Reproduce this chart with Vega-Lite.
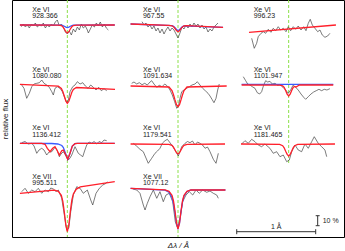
{
"$schema":"https://vega.github.io/schema/vega-lite/v6.json",
"width":332,"height":237,
"autosize":{"type":"none"},
"padding":{"left":12,"top":0,"right":1,"bottom":14},
"config":{"view":{"stroke":"#000","strokeWidth":1},"text":{"font":"Liberation Sans","fontSize":7,"color":"#222"}},
"datasets":{"spec":[
{"p":1,"s":"l","ion":"Xe VI","wl":"928.366"},
{"p":2,"s":"l","ion":"Xe VI","wl":"967.55"},
{"p":3,"s":"l","ion":"Xe VI","wl":"996.23"},
{"p":4,"s":"l","ion":"Xe VI","wl":"1080.080"},
{"p":5,"s":"l","ion":"Xe VI","wl":"1091.634"},
{"p":6,"s":"l","ion":"Xe VI","wl":"1101.947"},
{"p":7,"s":"l","ion":"Xe VI","wl":"1136.412"},
{"p":8,"s":"l","ion":"Xe VI","wl":"1179.541"},
{"p":9,"s":"l","ion":"Xe VI","wl":"1181.465"},
{"p":10,"s":"l","ion":"Xe VII","wl":"995.511"},
{"p":11,"s":"l","ion":"Xe VII","wl":"1077.12"},
{"p":1,"s":"o","dl":-0.582,"f":0.983},{"p":1,"s":"o","dl":-0.557,"f":1.01},{"p":1,"s":"o","dl":-0.531,"f":0.98},{"p":1,"s":"o","dl":-0.506,"f":1.0},{"p":1,"s":"o","dl":-0.481,"f":0.97},{"p":1,"s":"o","dl":-0.455,"f":1.01},{"p":1,"s":"o","dl":-0.43,"f":0.99},{"p":1,"s":"o","dl":-0.405,"f":1.02},{"p":1,"s":"o","dl":-0.38,"f":0.98},{"p":1,"s":"o","dl":-0.354,"f":1.0},{"p":1,"s":"o","dl":-0.329,"f":0.99},{"p":1,"s":"o","dl":-0.304,"f":1.02},{"p":1,"s":"o","dl":-0.278,"f":0.97},{"p":1,"s":"o","dl":-0.253,"f":1.0},{"p":1,"s":"o","dl":-0.228,"f":0.98},{"p":1,"s":"o","dl":-0.202,"f":1.01},{"p":1,"s":"o","dl":-0.177,"f":0.99},{"p":1,"s":"o","dl":-0.152,"f":1.03},{"p":1,"s":"o","dl":-0.127,"f":1.05},{"p":1,"s":"o","dl":-0.101,"f":0.99},{"p":1,"s":"o","dl":-0.076,"f":1.01},{"p":1,"s":"o","dl":-0.051,"f":0.98},{"p":1,"s":"o","dl":-0.025,"f":0.93},{"p":1,"s":"o","dl":0,"f":0.91},{"p":1,"s":"o","dl":0.025,"f":0.94},{"p":1,"s":"o","dl":0.051,"f":0.9},{"p":1,"s":"o","dl":0.076,"f":0.96},{"p":1,"s":"o","dl":0.101,"f":0.93},{"p":1,"s":"o","dl":0.127,"f":0.98},{"p":1,"s":"o","dl":0.152,"f":0.95},{"p":1,"s":"o","dl":0.177,"f":1.01},{"p":1,"s":"o","dl":0.202,"f":0.97},{"p":1,"s":"o","dl":0.228,"f":0.99},{"p":1,"s":"o","dl":0.253,"f":0.95},{"p":1,"s":"o","dl":0.266,"f":0.92},{"p":1,"s":"o","dl":0.291,"f":0.96},{"p":1,"s":"o","dl":0.316,"f":1.0},{"p":1,"s":"o","dl":0.342,"f":0.98},{"p":1,"s":"o","dl":0.367,"f":1.02},{"p":1,"s":"o","dl":0.392,"f":0.99},{"p":1,"s":"o","dl":0.417,"f":1.03},{"p":1,"s":"o","dl":0.443,"f":0.98},{"p":1,"s":"o","dl":0.468,"f":1.01},{"p":1,"s":"o","dl":0.493,"f":0.97},{"p":1,"s":"o","dl":0.519,"f":0.95},
{"p":1,"s":"r","dl":-0.6,"f":1.0},{"p":1,"s":"r","dl":-0.114,"f":0.999},{"p":1,"s":"r","dl":-0.076,"f":0.994},{"p":1,"s":"r","dl":-0.057,"f":0.982},{"p":1,"s":"r","dl":-0.038,"f":0.96},{"p":1,"s":"r","dl":-0.019,"f":0.933},{"p":1,"s":"r","dl":0,"f":0.92},{"p":1,"s":"r","dl":0.019,"f":0.933},{"p":1,"s":"r","dl":0.038,"f":0.96},{"p":1,"s":"r","dl":0.057,"f":0.982},{"p":1,"s":"r","dl":0.076,"f":0.994},{"p":1,"s":"r","dl":0.114,"f":0.999},{"p":1,"s":"r","dl":0.6,"f":1.0},
{"p":1,"s":"b","dl":-0.6,"f":1.0},{"p":1,"s":"b","dl":-0.076,"f":0.998},{"p":1,"s":"b","dl":-0.057,"f":0.995},{"p":1,"s":"b","dl":-0.038,"f":0.988},{"p":1,"s":"b","dl":-0.019,"f":0.979},{"p":1,"s":"b","dl":0,"f":0.975},{"p":1,"s":"b","dl":0.019,"f":0.979},{"p":1,"s":"b","dl":0.038,"f":0.988},{"p":1,"s":"b","dl":0.057,"f":0.995},{"p":1,"s":"b","dl":0.076,"f":0.998},{"p":1,"s":"b","dl":0.6,"f":1.0},
{"p":2,"s":"o","dl":-0.455,"f":1.033},{"p":2,"s":"o","dl":-0.43,"f":1.0},{"p":2,"s":"o","dl":-0.405,"f":1.02},{"p":2,"s":"o","dl":-0.38,"f":0.98},{"p":2,"s":"o","dl":-0.354,"f":1.0},{"p":2,"s":"o","dl":-0.329,"f":0.96},{"p":2,"s":"o","dl":-0.304,"f":0.99},{"p":2,"s":"o","dl":-0.278,"f":0.94},{"p":2,"s":"o","dl":-0.253,"f":0.97},{"p":2,"s":"o","dl":-0.228,"f":0.92},{"p":2,"s":"o","dl":-0.202,"f":0.96},{"p":2,"s":"o","dl":-0.177,"f":0.91},{"p":2,"s":"o","dl":-0.152,"f":0.95},{"p":2,"s":"o","dl":-0.127,"f":0.98},{"p":2,"s":"o","dl":-0.101,"f":0.94},{"p":2,"s":"o","dl":-0.076,"f":0.97},{"p":2,"s":"o","dl":-0.051,"f":0.95},{"p":2,"s":"o","dl":-0.025,"f":0.91},{"p":2,"s":"o","dl":0,"f":0.87},{"p":2,"s":"o","dl":0.025,"f":0.92},{"p":2,"s":"o","dl":0.051,"f":0.98},{"p":2,"s":"o","dl":0.076,"f":0.96},{"p":2,"s":"o","dl":0.101,"f":1.0},{"p":2,"s":"o","dl":0.127,"f":0.97},{"p":2,"s":"o","dl":0.152,"f":1.01},{"p":2,"s":"o","dl":0.177,"f":0.98},{"p":2,"s":"o","dl":0.202,"f":1.02},{"p":2,"s":"o","dl":0.228,"f":0.99},{"p":2,"s":"o","dl":0.253,"f":1.01},{"p":2,"s":"o","dl":0.278,"f":0.97},{"p":2,"s":"o","dl":0.304,"f":1.0},{"p":2,"s":"o","dl":0.329,"f":0.96},{"p":2,"s":"o","dl":0.354,"f":0.98},{"p":2,"s":"o","dl":0.38,"f":0.93},{"p":2,"s":"o","dl":0.405,"f":0.96},{"p":2,"s":"o","dl":0.43,"f":0.94},{"p":2,"s":"o","dl":0.455,"f":0.98},{"p":2,"s":"o","dl":0.481,"f":1.0},{"p":2,"s":"o","dl":0.506,"f":1.02},
{"p":2,"s":"r","dl":-0.6,"f":1.01},{"p":2,"s":"r","dl":-0.114,"f":0.996},{"p":2,"s":"r","dl":-0.076,"f":0.992},{"p":2,"s":"r","dl":-0.057,"f":0.983},{"p":2,"s":"r","dl":-0.038,"f":0.965},{"p":2,"s":"r","dl":-0.019,"f":0.944},{"p":2,"s":"r","dl":0,"f":0.933},{"p":2,"s":"r","dl":0.019,"f":0.943},{"p":2,"s":"r","dl":0.038,"f":0.964},{"p":2,"s":"r","dl":0.057,"f":0.981},{"p":2,"s":"r","dl":0.076,"f":0.99},{"p":2,"s":"r","dl":0.114,"f":0.994},{"p":2,"s":"r","dl":0.57,"f":0.977},
{"p":2,"s":"b","dl":-0.6,"f":1.01},{"p":2,"s":"b","dl":-0.076,"f":0.993},{"p":2,"s":"b","dl":-0.057,"f":0.986},{"p":2,"s":"b","dl":-0.038,"f":0.972},{"p":2,"s":"b","dl":-0.019,"f":0.955},{"p":2,"s":"b","dl":0,"f":0.945},{"p":2,"s":"b","dl":0.019,"f":0.953},{"p":2,"s":"b","dl":0.038,"f":0.97},{"p":2,"s":"b","dl":0.057,"f":0.984},{"p":2,"s":"b","dl":0.076,"f":0.991},{"p":2,"s":"b","dl":0.57,"f":0.977},
{"p":3,"s":"o","dl":-0.468,"f":0.867},{"p":3,"s":"o","dl":-0.435,"f":0.767},{"p":3,"s":"o","dl":-0.405,"f":0.817},{"p":3,"s":"o","dl":-0.385,"f":0.883},{"p":3,"s":"o","dl":-0.35,"f":0.917},{"p":3,"s":"o","dl":-0.321,"f":0.933},{"p":3,"s":"o","dl":-0.291,"f":0.917},{"p":3,"s":"o","dl":-0.258,"f":0.957},{"p":3,"s":"o","dl":-0.224,"f":0.927},{"p":3,"s":"o","dl":-0.195,"f":0.967},{"p":3,"s":"o","dl":-0.164,"f":0.943},{"p":3,"s":"o","dl":-0.132,"f":0.983},{"p":3,"s":"o","dl":-0.101,"f":0.95},{"p":3,"s":"o","dl":-0.068,"f":0.967},{"p":3,"s":"o","dl":-0.034,"f":0.933},{"p":3,"s":"o","dl":-0.005,"f":0.983},{"p":3,"s":"o","dl":0.025,"f":0.943},{"p":3,"s":"o","dl":0.058,"f":0.983},{"p":3,"s":"o","dl":0.089,"f":0.957},{"p":3,"s":"o","dl":0.121,"f":0.99},{"p":3,"s":"o","dl":0.156,"f":0.95},{"p":3,"s":"o","dl":0.19,"f":0.983},{"p":3,"s":"o","dl":0.219,"f":0.943},{"p":3,"s":"o","dl":0.248,"f":1.017},{"p":3,"s":"o","dl":0.273,"f":1.057},{"p":3,"s":"o","dl":0.299,"f":1.0},{"p":3,"s":"o","dl":0.333,"f":0.967},{"p":3,"s":"o","dl":0.367,"f":0.933},{"p":3,"s":"o","dl":0.396,"f":0.95},{"p":3,"s":"o","dl":0.425,"f":0.9},{"p":3,"s":"o","dl":0.459,"f":0.877},{"p":3,"s":"o","dl":0.493,"f":0.89},{"p":3,"s":"o","dl":0.522,"f":0.917},
{"p":3,"s":"r","dl":-0.502,"f":0.927},{"p":3,"s":"r","dl":0.598,"f":1.0},
{"p":4,"s":"o","dl":-0.577,"f":1.0},{"p":4,"s":"o","dl":-0.548,"f":0.967},{"p":4,"s":"o","dl":-0.514,"f":0.867},{"p":4,"s":"o","dl":-0.481,"f":0.917},{"p":4,"s":"o","dl":-0.45,"f":0.983},{"p":4,"s":"o","dl":-0.421,"f":1.01},{"p":4,"s":"o","dl":-0.387,"f":1.017},{"p":4,"s":"o","dl":-0.354,"f":1.023},{"p":4,"s":"o","dl":-0.324,"f":1.05},{"p":4,"s":"o","dl":-0.295,"f":1.017},{"p":4,"s":"o","dl":-0.261,"f":1.0},{"p":4,"s":"o","dl":-0.228,"f":0.977},{"p":4,"s":"o","dl":-0.197,"f":0.933},{"p":4,"s":"o","dl":-0.177,"f":0.9},{"p":4,"s":"o","dl":-0.156,"f":0.967},{"p":4,"s":"o","dl":-0.127,"f":0.983},{"p":4,"s":"o","dl":-0.092,"f":0.967},{"p":4,"s":"o","dl":-0.063,"f":0.933},{"p":4,"s":"o","dl":-0.038,"f":0.883},{"p":4,"s":"o","dl":-0.008,"f":0.823},{"p":4,"s":"o","dl":0.013,"f":0.85},{"p":4,"s":"o","dl":0.034,"f":0.933},{"p":4,"s":"o","dl":0.068,"f":0.983},{"p":4,"s":"o","dl":0.097,"f":1.0},{"p":4,"s":"o","dl":0.127,"f":1.033},{"p":4,"s":"o","dl":0.161,"f":1.01},{"p":4,"s":"o","dl":0.195,"f":1.023},{"p":4,"s":"o","dl":0.228,"f":0.99},{"p":4,"s":"o","dl":0.262,"f":0.967},{"p":4,"s":"o","dl":0.296,"f":1.0},{"p":4,"s":"o","dl":0.329,"f":0.977},{"p":4,"s":"o","dl":0.363,"f":0.95},{"p":4,"s":"o","dl":0.397,"f":0.977},{"p":4,"s":"o","dl":0.43,"f":0.943},{"p":4,"s":"o","dl":0.464,"f":0.963},{"p":4,"s":"o","dl":0.498,"f":0.943},
{"p":4,"s":"r","dl":-0.6,"f":1.007},{"p":4,"s":"r","dl":-0.114,"f":0.988},{"p":4,"s":"r","dl":-0.076,"f":0.966},{"p":4,"s":"r","dl":-0.057,"f":0.935},{"p":4,"s":"r","dl":-0.038,"f":0.887},{"p":4,"s":"r","dl":-0.019,"f":0.841},{"p":4,"s":"r","dl":0,"f":0.817},{"p":4,"s":"r","dl":0.019,"f":0.837},{"p":4,"s":"r","dl":0.038,"f":0.881},{"p":4,"s":"r","dl":0.057,"f":0.927},{"p":4,"s":"r","dl":0.076,"f":0.956},{"p":4,"s":"r","dl":0.114,"f":0.975},{"p":4,"s":"r","dl":0.603,"f":0.957},
{"p":5,"s":"o","dl":-0.586,"f":1.017},{"p":5,"s":"o","dl":-0.557,"f":1.03},{"p":5,"s":"o","dl":-0.522,"f":1.01},{"p":5,"s":"o","dl":-0.49,"f":1.023},{"p":5,"s":"o","dl":-0.455,"f":1.003},{"p":5,"s":"o","dl":-0.421,"f":1.017},{"p":5,"s":"o","dl":-0.388,"f":1.0},{"p":5,"s":"o","dl":-0.354,"f":1.03},{"p":5,"s":"o","dl":-0.333,"f":1.043},{"p":5,"s":"o","dl":-0.304,"f":1.01},{"p":5,"s":"o","dl":-0.269,"f":0.977},{"p":5,"s":"o","dl":-0.237,"f":0.997},{"p":5,"s":"o","dl":-0.202,"f":0.983},{"p":5,"s":"o","dl":-0.168,"f":1.01},{"p":5,"s":"o","dl":-0.135,"f":0.99},{"p":5,"s":"o","dl":-0.101,"f":0.95},{"p":5,"s":"o","dl":-0.072,"f":0.9},{"p":5,"s":"o","dl":-0.042,"f":0.833},{"p":5,"s":"o","dl":-0.016,"f":0.767},{"p":5,"s":"o","dl":0.004,"f":0.783},{"p":5,"s":"o","dl":0.025,"f":0.867},{"p":5,"s":"o","dl":0.047,"f":0.933},{"p":5,"s":"o","dl":0.076,"f":0.95},{"p":5,"s":"o","dl":0.11,"f":0.967},{"p":5,"s":"o","dl":0.143,"f":0.983},{"p":5,"s":"o","dl":0.177,"f":1.0},{"p":5,"s":"o","dl":0.215,"f":1.01},{"p":5,"s":"o","dl":0.244,"f":1.033},{"p":5,"s":"o","dl":0.278,"f":1.0},{"p":5,"s":"o","dl":0.312,"f":0.967},{"p":5,"s":"o","dl":0.345,"f":0.943},{"p":5,"s":"o","dl":0.38,"f":0.917},{"p":5,"s":"o","dl":0.405,"f":0.89},{"p":5,"s":"o","dl":0.43,"f":0.857},{"p":5,"s":"o","dl":0.455,"f":0.823},{"p":5,"s":"o","dl":0.481,"f":0.867},{"p":5,"s":"o","dl":0.502,"f":0.95},{"p":5,"s":"o","dl":0.522,"f":1.01},
{"p":5,"s":"r","dl":-0.6,"f":0.99},{"p":5,"s":"r","dl":-0.114,"f":0.98},{"p":5,"s":"r","dl":-0.076,"f":0.944},{"p":5,"s":"r","dl":-0.057,"f":0.903},{"p":5,"s":"r","dl":-0.038,"f":0.851},{"p":5,"s":"r","dl":-0.019,"f":0.804},{"p":5,"s":"r","dl":0,"f":0.783},{"p":5,"s":"r","dl":0.019,"f":0.804},{"p":5,"s":"r","dl":0.038,"f":0.851},{"p":5,"s":"r","dl":0.057,"f":0.903},{"p":5,"s":"r","dl":0.076,"f":0.944},{"p":5,"s":"r","dl":0.114,"f":0.98},{"p":5,"s":"r","dl":0.616,"f":0.99},
{"p":6,"s":"o","dl":-0.574,"f":1.083},{"p":6,"s":"o","dl":-0.544,"f":1.043},{"p":6,"s":"o","dl":-0.519,"f":1.01},{"p":6,"s":"o","dl":-0.49,"f":1.0},{"p":6,"s":"o","dl":-0.46,"f":0.983},{"p":6,"s":"o","dl":-0.426,"f":0.967},{"p":6,"s":"o","dl":-0.397,"f":0.923},{"p":6,"s":"o","dl":-0.367,"f":0.91},{"p":6,"s":"o","dl":-0.342,"f":0.933},{"p":6,"s":"o","dl":-0.316,"f":1.0},{"p":6,"s":"o","dl":-0.291,"f":1.043},{"p":6,"s":"o","dl":-0.266,"f":1.03},{"p":6,"s":"o","dl":-0.237,"f":1.037},{"p":6,"s":"o","dl":-0.207,"f":1.01},{"p":6,"s":"o","dl":-0.173,"f":1.017},{"p":6,"s":"o","dl":-0.139,"f":0.997},{"p":6,"s":"o","dl":-0.106,"f":1.003},{"p":6,"s":"o","dl":-0.072,"f":0.977},{"p":6,"s":"o","dl":-0.038,"f":0.95},{"p":6,"s":"o","dl":-0.005,"f":0.917},{"p":6,"s":"o","dl":0.025,"f":0.95},{"p":6,"s":"o","dl":0.054,"f":0.997},{"p":6,"s":"o","dl":0.089,"f":0.977},{"p":6,"s":"o","dl":0.121,"f":0.95},{"p":6,"s":"o","dl":0.156,"f":0.91},{"p":6,"s":"o","dl":0.19,"f":0.877},{"p":6,"s":"o","dl":0.215,"f":0.857},{"p":6,"s":"o","dl":0.248,"f":0.883},{"p":6,"s":"o","dl":0.282,"f":0.91},{"p":6,"s":"o","dl":0.316,"f":0.93},{"p":6,"s":"o","dl":0.349,"f":0.943},{"p":6,"s":"o","dl":0.383,"f":0.957},{"p":6,"s":"o","dl":0.417,"f":0.943},{"p":6,"s":"o","dl":0.45,"f":0.957},{"p":6,"s":"o","dl":0.484,"f":0.95},{"p":6,"s":"o","dl":0.522,"f":0.963},
{"p":6,"s":"b","dl":-0.595,"f":1.007},{"p":6,"s":"b","dl":0.564,"f":1.007},
{"p":6,"s":"r","dl":-0.595,"f":1.0},{"p":6,"s":"r","dl":-0.114,"f":0.998},{"p":6,"s":"r","dl":-0.076,"f":0.991},{"p":6,"s":"r","dl":-0.057,"f":0.976},{"p":6,"s":"r","dl":-0.038,"f":0.945},{"p":6,"s":"r","dl":-0.019,"f":0.908},{"p":6,"s":"r","dl":0,"f":0.89},{"p":6,"s":"r","dl":0.019,"f":0.908},{"p":6,"s":"r","dl":0.038,"f":0.945},{"p":6,"s":"r","dl":0.057,"f":0.976},{"p":6,"s":"r","dl":0.076,"f":0.985},{"p":6,"s":"r","dl":0.095,"f":0.98},{"p":6,"s":"r","dl":0.114,"f":0.99},{"p":6,"s":"r","dl":0.139,"f":1.0},{"p":6,"s":"r","dl":0.564,"f":1.0},
{"p":7,"s":"o","dl":-0.577,"f":1.013},{"p":7,"s":"o","dl":-0.535,"f":1.025},{"p":7,"s":"o","dl":-0.497,"f":1.0},{"p":7,"s":"o","dl":-0.45,"f":1.007},{"p":7,"s":"o","dl":-0.421,"f":0.98},{"p":7,"s":"o","dl":-0.387,"f":0.907},{"p":7,"s":"o","dl":-0.358,"f":0.94},{"p":7,"s":"o","dl":-0.324,"f":0.957},{"p":7,"s":"o","dl":-0.295,"f":0.94},{"p":7,"s":"o","dl":-0.261,"f":0.89},{"p":7,"s":"o","dl":-0.231,"f":0.92},{"p":7,"s":"o","dl":-0.197,"f":0.923},{"p":7,"s":"o","dl":-0.156,"f":0.967},{"p":7,"s":"o","dl":-0.13,"f":0.94},{"p":7,"s":"o","dl":-0.101,"f":0.873},{"p":7,"s":"o","dl":-0.08,"f":0.9},{"p":7,"s":"o","dl":-0.051,"f":0.923},{"p":7,"s":"o","dl":-0.023,"f":0.89},{"p":7,"s":"o","dl":0.013,"f":0.84},{"p":7,"s":"o","dl":0.034,"f":0.86},{"p":7,"s":"o","dl":0.056,"f":0.89},{"p":7,"s":"o","dl":0.097,"f":0.973},{"p":7,"s":"o","dl":0.139,"f":0.907},{"p":7,"s":"o","dl":0.167,"f":0.89},{"p":7,"s":"o","dl":0.195,"f":0.873},{"p":7,"s":"o","dl":0.218,"f":0.93},{"p":7,"s":"o","dl":0.245,"f":0.99},{"p":7,"s":"o","dl":0.275,"f":1.02},{"p":7,"s":"o","dl":0.309,"f":1.007},{"p":7,"s":"o","dl":0.338,"f":1.025},{"p":7,"s":"o","dl":0.372,"f":1.0},{"p":7,"s":"o","dl":0.401,"f":1.025},{"p":7,"s":"o","dl":0.435,"f":1.013},{"p":7,"s":"o","dl":0.464,"f":1.04},{"p":7,"s":"o","dl":0.498,"f":1.033},
{"p":7,"s":"b","dl":-0.6,"f":1.007},{"p":7,"s":"b","dl":-0.2,"f":1.005},{"p":7,"s":"b","dl":-0.12,"f":1.0},{"p":7,"s":"b","dl":-0.07,"f":0.985},{"p":7,"s":"b","dl":-0.05,"f":0.965},{"p":7,"s":"b","dl":-0.025,"f":0.91},{"p":7,"s":"b","dl":0.005,"f":0.847},{"p":7,"s":"b","dl":0.034,"f":0.907},{"p":7,"s":"b","dl":0.063,"f":0.98},{"p":7,"s":"b","dl":0.097,"f":1.003},{"p":7,"s":"b","dl":0.127,"f":1.007},{"p":7,"s":"b","dl":0.6,"f":1.007},
{"p":7,"s":"r","dl":-0.6,"f":1.007},{"p":7,"s":"r","dl":-0.324,"f":1.007},{"p":7,"s":"r","dl":-0.282,"f":0.997},{"p":7,"s":"r","dl":-0.253,"f":0.957},{"p":7,"s":"r","dl":-0.219,"f":0.923},{"p":7,"s":"r","dl":-0.185,"f":0.957},{"p":7,"s":"r","dl":-0.156,"f":0.973},{"p":7,"s":"r","dl":-0.127,"f":0.933},{"p":7,"s":"r","dl":-0.101,"f":0.89},{"p":7,"s":"r","dl":-0.071,"f":0.933},{"p":7,"s":"r","dl":-0.051,"f":0.94},{"p":7,"s":"r","dl":-0.025,"f":0.9},{"p":7,"s":"r","dl":0.005,"f":0.847},{"p":7,"s":"r","dl":0.034,"f":0.907},{"p":7,"s":"r","dl":0.063,"f":0.98},{"p":7,"s":"r","dl":0.097,"f":1.003},{"p":7,"s":"r","dl":0.127,"f":1.007},{"p":7,"s":"r","dl":0.6,"f":1.007},
{"p":8,"s":"o","dl":-0.565,"f":1.007},{"p":8,"s":"o","dl":-0.525,"f":0.98},{"p":8,"s":"o","dl":-0.481,"f":0.947},{"p":8,"s":"o","dl":-0.439,"f":0.923},{"p":8,"s":"o","dl":-0.405,"f":0.86},{"p":8,"s":"o","dl":-0.376,"f":0.807},{"p":8,"s":"o","dl":-0.333,"f":0.857},{"p":8,"s":"o","dl":-0.291,"f":0.907},{"p":8,"s":"o","dl":-0.259,"f":0.93},{"p":8,"s":"o","dl":-0.228,"f":0.957},{"p":8,"s":"o","dl":-0.196,"f":1.01},{"p":8,"s":"o","dl":-0.164,"f":1.033},{"p":8,"s":"o","dl":-0.135,"f":1.047},{"p":8,"s":"o","dl":-0.108,"f":1.02},{"p":8,"s":"o","dl":-0.08,"f":0.99},{"p":8,"s":"o","dl":-0.038,"f":0.94},{"p":8,"s":"o","dl":0.004,"f":0.88},{"p":8,"s":"o","dl":0.047,"f":0.973},{"p":8,"s":"o","dl":0.089,"f":1.007},{"p":8,"s":"o","dl":0.12,"f":1.025},{"p":8,"s":"o","dl":0.152,"f":1.013},{"p":8,"s":"o","dl":0.183,"f":1.03},{"p":8,"s":"o","dl":0.215,"f":0.99},{"p":8,"s":"o","dl":0.247,"f":1.02},{"p":8,"s":"o","dl":0.278,"f":1.007},{"p":8,"s":"o","dl":0.31,"f":0.99},{"p":8,"s":"o","dl":0.342,"f":0.957},{"p":8,"s":"o","dl":0.373,"f":0.97},{"p":8,"s":"o","dl":0.405,"f":0.923},{"p":8,"s":"o","dl":0.447,"f":0.847},{"p":8,"s":"o","dl":0.481,"f":0.807},{"p":8,"s":"o","dl":0.51,"f":0.907},
{"p":8,"s":"r","dl":-0.6,"f":1.0},{"p":8,"s":"r","dl":-0.114,"f":0.997},{"p":8,"s":"r","dl":-0.076,"f":0.986},{"p":8,"s":"r","dl":-0.057,"f":0.968},{"p":8,"s":"r","dl":-0.038,"f":0.94},{"p":8,"s":"r","dl":-0.019,"f":0.913},{"p":8,"s":"r","dl":0,"f":0.9},{"p":8,"s":"r","dl":0.019,"f":0.913},{"p":8,"s":"r","dl":0.038,"f":0.94},{"p":8,"s":"r","dl":0.057,"f":0.968},{"p":8,"s":"r","dl":0.076,"f":0.986},{"p":8,"s":"r","dl":0.114,"f":0.997},{"p":8,"s":"r","dl":0.595,"f":1.0},
{"p":9,"s":"o","dl":-0.595,"f":1.0},{"p":9,"s":"o","dl":-0.553,"f":1.033},{"p":9,"s":"o","dl":-0.511,"f":1.007},{"p":9,"s":"o","dl":-0.468,"f":1.047},{"p":9,"s":"o","dl":-0.426,"f":1.023},{"p":9,"s":"o","dl":-0.385,"f":0.99},{"p":9,"s":"o","dl":-0.342,"f":0.973},{"p":9,"s":"o","dl":-0.3,"f":1.0},{"p":9,"s":"o","dl":-0.237,"f":0.957},{"p":9,"s":"o","dl":-0.195,"f":0.907},{"p":9,"s":"o","dl":-0.152,"f":0.923},{"p":9,"s":"o","dl":-0.11,"f":0.873},{"p":9,"s":"o","dl":-0.068,"f":0.89},{"p":9,"s":"o","dl":-0.025,"f":0.823},{"p":9,"s":"o","dl":0.008,"f":0.84},{"p":9,"s":"o","dl":0.038,"f":0.923},{"p":9,"s":"o","dl":0.08,"f":0.99},{"p":9,"s":"o","dl":0.121,"f":0.94},{"p":9,"s":"o","dl":0.164,"f":0.923},{"p":9,"s":"o","dl":0.206,"f":1.0},{"p":9,"s":"o","dl":0.248,"f":0.957},{"p":9,"s":"o","dl":0.291,"f":1.023},{"p":9,"s":"o","dl":0.324,"f":1.073},{"p":9,"s":"o","dl":0.374,"f":1.007},{"p":9,"s":"o","dl":0.417,"f":0.973},{"p":9,"s":"o","dl":0.459,"f":0.94},{"p":9,"s":"o","dl":0.481,"f":0.873},
{"p":9,"s":"r","dl":-0.603,"f":1.0},{"p":9,"s":"r","dl":-0.114,"f":0.996},{"p":9,"s":"r","dl":-0.076,"f":0.983},{"p":9,"s":"r","dl":-0.057,"f":0.962},{"p":9,"s":"r","dl":-0.038,"f":0.928},{"p":9,"s":"r","dl":-0.019,"f":0.896},{"p":9,"s":"r","dl":0,"f":0.88},{"p":9,"s":"r","dl":0.019,"f":0.896},{"p":9,"s":"r","dl":0.038,"f":0.928},{"p":9,"s":"r","dl":0.057,"f":0.962},{"p":9,"s":"r","dl":0.076,"f":0.983},{"p":9,"s":"r","dl":0.114,"f":0.996},{"p":9,"s":"r","dl":0.586,"f":1.0},
{"p":10,"s":"o","dl":-0.577,"f":0.983},{"p":10,"s":"o","dl":-0.535,"f":1.017},{"p":10,"s":"o","dl":-0.493,"f":0.967},{"p":10,"s":"o","dl":-0.45,"f":1.0},{"p":10,"s":"o","dl":-0.409,"f":0.983},{"p":10,"s":"o","dl":-0.367,"f":1.017},{"p":10,"s":"o","dl":-0.324,"f":0.967},{"p":10,"s":"o","dl":-0.282,"f":1.0},{"p":10,"s":"o","dl":-0.24,"f":0.983},{"p":10,"s":"o","dl":-0.209,"f":1.02},{"p":10,"s":"o","dl":-0.177,"f":1.01},{"p":10,"s":"o","dl":-0.143,"f":0.985},{"p":10,"s":"o","dl":-0.114,"f":1.0},{"p":10,"s":"o","dl":-0.071,"f":0.917},{"p":10,"s":"o","dl":-0.038,"f":0.75},{"p":10,"s":"o","dl":-0.008,"f":0.6},{"p":10,"s":"o","dl":0.018,"f":0.617},{"p":10,"s":"o","dl":0.043,"f":0.783},{"p":10,"s":"o","dl":0.076,"f":0.95},{"p":10,"s":"o","dl":0.119,"f":1.033},{"p":10,"s":"o","dl":0.161,"f":1.017},{"p":10,"s":"o","dl":0.202,"f":0.967},{"p":10,"s":"o","dl":0.253,"f":1.0},{"p":10,"s":"o","dl":0.296,"f":0.9},{"p":10,"s":"o","dl":0.321,"f":0.85},{"p":10,"s":"o","dl":0.363,"f":0.967},{"p":10,"s":"o","dl":0.405,"f":1.017},{"p":10,"s":"o","dl":0.448,"f":1.05},{"p":10,"s":"o","dl":0.49,"f":1.067},{"p":10,"s":"o","dl":0.506,"f":1.083},
{"p":10,"s":"r","dl":-0.6,"f":0.967},{"p":10,"s":"r","dl":-0.164,"f":0.999},{"p":10,"s":"r","dl":-0.114,"f":0.987},{"p":10,"s":"r","dl":-0.076,"f":0.947},{"p":10,"s":"r","dl":-0.057,"f":0.886},{"p":10,"s":"r","dl":-0.038,"f":0.778},{"p":10,"s":"r","dl":-0.019,"f":0.648},{"p":10,"s":"r","dl":0,"f":0.584},{"p":10,"s":"r","dl":0.019,"f":0.652},{"p":10,"s":"r","dl":0.038,"f":0.786},{"p":10,"s":"r","dl":0.057,"f":0.898},{"p":10,"s":"r","dl":0.076,"f":0.961},{"p":10,"s":"r","dl":0.114,"f":1.009},{"p":10,"s":"r","dl":0.164,"f":1.031},{"p":10,"s":"r","dl":0.6,"f":1.083},
{"p":11,"s":"o","dl":-0.573,"f":1.01},{"p":11,"s":"o","dl":-0.522,"f":1.0},{"p":11,"s":"o","dl":-0.481,"f":0.967},{"p":11,"s":"o","dl":-0.439,"f":0.85},{"p":11,"s":"o","dl":-0.417,"f":0.8},{"p":11,"s":"o","dl":-0.388,"f":0.867},{"p":11,"s":"o","dl":-0.354,"f":0.933},{"p":11,"s":"o","dl":-0.312,"f":1.0},{"p":11,"s":"o","dl":-0.269,"f":0.917},{"p":11,"s":"o","dl":-0.228,"f":0.983},{"p":11,"s":"o","dl":-0.186,"f":0.883},{"p":11,"s":"o","dl":-0.152,"f":0.95},{"p":11,"s":"o","dl":-0.11,"f":0.967},{"p":11,"s":"o","dl":-0.067,"f":0.883},{"p":11,"s":"o","dl":-0.034,"f":0.683},{"p":11,"s":"o","dl":-0.004,"f":0.617},{"p":11,"s":"o","dl":0.025,"f":0.717},{"p":11,"s":"o","dl":0.059,"f":0.883},{"p":11,"s":"o","dl":0.101,"f":0.95},{"p":11,"s":"o","dl":0.143,"f":0.983},{"p":11,"s":"o","dl":0.186,"f":0.95},{"p":11,"s":"o","dl":0.228,"f":1.0},{"p":11,"s":"o","dl":0.269,"f":0.967},{"p":11,"s":"o","dl":0.312,"f":1.0},{"p":11,"s":"o","dl":0.363,"f":0.977},{"p":11,"s":"o","dl":0.405,"f":0.99},{"p":11,"s":"o","dl":0.447,"f":0.967},{"p":11,"s":"o","dl":0.49,"f":0.95},{"p":11,"s":"o","dl":0.51,"f":0.917},
{"p":11,"s":"b","dl":-0.6,"f":1.017},{"p":11,"s":"b","dl":-0.164,"f":0.998},{"p":11,"s":"b","dl":-0.114,"f":0.979},{"p":11,"s":"b","dl":-0.076,"f":0.924},{"p":11,"s":"b","dl":-0.057,"f":0.862},{"p":11,"s":"b","dl":-0.038,"f":0.768},{"p":11,"s":"b","dl":-0.019,"f":0.667},{"p":11,"s":"b","dl":0,"f":0.62},{"p":11,"s":"b","dl":0.019,"f":0.667},{"p":11,"s":"b","dl":0.038,"f":0.78},{"p":11,"s":"b","dl":0.057,"f":0.88},{"p":11,"s":"b","dl":0.076,"f":0.94},{"p":11,"s":"b","dl":0.114,"f":0.984},{"p":11,"s":"b","dl":0.164,"f":1.0},{"p":11,"s":"b","dl":0.6,"f":1.0},
{"p":11,"s":"r","dl":-0.6,"f":1.017},{"p":11,"s":"r","dl":-0.164,"f":1.002},{"p":11,"s":"r","dl":-0.114,"f":0.986},{"p":11,"s":"r","dl":-0.076,"f":0.946},{"p":11,"s":"r","dl":-0.057,"f":0.89},{"p":11,"s":"r","dl":-0.038,"f":0.79},{"p":11,"s":"r","dl":-0.019,"f":0.67},{"p":11,"s":"r","dl":0,"f":0.61},{"p":11,"s":"r","dl":0.019,"f":0.67},{"p":11,"s":"r","dl":0.038,"f":0.79},{"p":11,"s":"r","dl":0.057,"f":0.89},{"p":11,"s":"r","dl":0.076,"f":0.946},{"p":11,"s":"r","dl":0.114,"f":0.986},{"p":11,"s":"r","dl":0.164,"f":1.002},{"p":11,"s":"r","dl":0.6,"f":1.0}
]},
"data":{"name":"spec"},
"resolve":{"scale":{"x":"independent","y":"independent"}},
"layer":[
{"transform":[{"filter":{"field":"p","equal":1}}],"layer":[
  {"data":{"values":[{"p":1}]},"mark":{"type":"rule","color":"#8ce04a","strokeWidth":1,"strokeDash":[3,2]},"encoding":{"x":{"datum":0,"type":"quantitative","scale":{"domain":[-0.7,3.5],"nice":false,"zero":false},"axis":null},"y":{"datum":1.25,"type":"quantitative","scale":{"domain":[-1.12,1.25],"nice":false,"zero":false},"axis":null},"y2":{"datum":-1.12}}},
  {"transform":[{"filter":{"field":"s","equal":"o"}}],"mark":{"type":"line","color":"#444","strokeWidth":0.7},"encoding":{"x":{"field":"dl","type":"quantitative","axis":null},"y":{"field":"f","type":"quantitative","axis":null}}},
  {"transform":[{"filter":{"field":"s","equal":"b"}}],"mark":{"type":"line","color":"#3a5cff","strokeWidth":1.3},"encoding":{"x":{"field":"dl","type":"quantitative","axis":null},"y":{"field":"f","type":"quantitative","axis":null}}},
  {"transform":[{"filter":{"field":"s","equal":"r"}}],"mark":{"type":"line","color":"#ff1f2a","strokeWidth":1.3},"encoding":{"x":{"field":"dl","type":"quantitative","axis":null},"y":{"field":"f","type":"quantitative","axis":null}}},
  {"transform":[{"filter":{"field":"s","equal":"l"}}],"mark":{"type":"text","align":"left","baseline":"middle"},"encoding":{"text":{"field":"ion"},"x":{"datum":-0.443,"type":"quantitative","axis":null},"y":{"datum":1.155,"type":"quantitative","axis":null}}},
  {"transform":[{"filter":{"field":"s","equal":"l"}}],"mark":{"type":"text","align":"left","baseline":"middle"},"encoding":{"text":{"field":"wl"},"x":{"datum":-0.443,"type":"quantitative","axis":null},"y":{"datum":1.09,"type":"quantitative","axis":null}}}
 ]},
{"transform":[{"filter":{"field":"p","equal":2}}],"layer":[
  {"data":{"values":[{"p":2}]},"mark":{"type":"rule","color":"#8ce04a","strokeWidth":1,"strokeDash":[3,2]},"encoding":{"x":{"datum":0,"type":"quantitative","scale":{"domain":[-2.1,2.1],"nice":false,"zero":false},"axis":null},"y":{"datum":1.25,"type":"quantitative","scale":{"domain":[-1.12,1.25],"nice":false,"zero":false},"axis":null},"y2":{"datum":-1.12}}},
  {"transform":[{"filter":{"field":"s","equal":"o"}}],"mark":{"type":"line","color":"#444","strokeWidth":0.7},"encoding":{"x":{"field":"dl","type":"quantitative","axis":null},"y":{"field":"f","type":"quantitative","axis":null}}},
  {"transform":[{"filter":{"field":"s","equal":"b"}}],"mark":{"type":"line","color":"#3a5cff","strokeWidth":1.3},"encoding":{"x":{"field":"dl","type":"quantitative","axis":null},"y":{"field":"f","type":"quantitative","axis":null}}},
  {"transform":[{"filter":{"field":"s","equal":"r"}}],"mark":{"type":"line","color":"#ff1f2a","strokeWidth":1.3},"encoding":{"x":{"field":"dl","type":"quantitative","axis":null},"y":{"field":"f","type":"quantitative","axis":null}}},
  {"transform":[{"filter":{"field":"s","equal":"l"}}],"mark":{"type":"text","align":"left","baseline":"middle"},"encoding":{"text":{"field":"ion"},"x":{"datum":-0.443,"type":"quantitative","axis":null},"y":{"datum":1.155,"type":"quantitative","axis":null}}},
  {"transform":[{"filter":{"field":"s","equal":"l"}}],"mark":{"type":"text","align":"left","baseline":"middle"},"encoding":{"text":{"field":"wl"},"x":{"datum":-0.443,"type":"quantitative","axis":null},"y":{"datum":1.09,"type":"quantitative","axis":null}}}
 ]},
{"transform":[{"filter":{"field":"p","equal":3}}],"layer":[
  {"data":{"values":[{"p":3}]},"mark":{"type":"rule","color":"#8ce04a","strokeWidth":1,"strokeDash":[3,2]},"encoding":{"x":{"datum":0,"type":"quantitative","scale":{"domain":[-3.5,0.7],"nice":false,"zero":false},"axis":null},"y":{"datum":1.25,"type":"quantitative","scale":{"domain":[-1.12,1.25],"nice":false,"zero":false},"axis":null},"y2":{"datum":-0.4}}},
  {"transform":[{"filter":{"field":"s","equal":"o"}}],"mark":{"type":"line","color":"#444","strokeWidth":0.7},"encoding":{"x":{"field":"dl","type":"quantitative","axis":null},"y":{"field":"f","type":"quantitative","axis":null}}},
  {"transform":[{"filter":{"field":"s","equal":"b"}}],"mark":{"type":"line","color":"#3a5cff","strokeWidth":1.3},"encoding":{"x":{"field":"dl","type":"quantitative","axis":null},"y":{"field":"f","type":"quantitative","axis":null}}},
  {"transform":[{"filter":{"field":"s","equal":"r"}}],"mark":{"type":"line","color":"#ff1f2a","strokeWidth":1.3},"encoding":{"x":{"field":"dl","type":"quantitative","axis":null},"y":{"field":"f","type":"quantitative","axis":null}}},
  {"transform":[{"filter":{"field":"s","equal":"l"}}],"mark":{"type":"text","align":"left","baseline":"middle"},"encoding":{"text":{"field":"ion"},"x":{"datum":-0.443,"type":"quantitative","axis":null},"y":{"datum":1.155,"type":"quantitative","axis":null}}},
  {"transform":[{"filter":{"field":"s","equal":"l"}}],"mark":{"type":"text","align":"left","baseline":"middle"},"encoding":{"text":{"field":"wl"},"x":{"datum":-0.443,"type":"quantitative","axis":null},"y":{"datum":1.09,"type":"quantitative","axis":null}}}
 ]},
{"transform":[{"filter":{"field":"p","equal":4}}],"layer":[
  {"transform":[{"filter":{"field":"s","equal":"o"}}],"mark":{"type":"line","color":"#444","strokeWidth":0.7},"encoding":{"x":{"field":"dl","type":"quantitative","scale":{"domain":[-0.7,3.5],"nice":false,"zero":false},"axis":null},"y":{"field":"f","type":"quantitative","scale":{"domain":[-0.52,1.85],"nice":false,"zero":false},"axis":null}}},
  {"transform":[{"filter":{"field":"s","equal":"b"}}],"mark":{"type":"line","color":"#3a5cff","strokeWidth":1.3},"encoding":{"x":{"field":"dl","type":"quantitative","axis":null},"y":{"field":"f","type":"quantitative","axis":null}}},
  {"transform":[{"filter":{"field":"s","equal":"r"}}],"mark":{"type":"line","color":"#ff1f2a","strokeWidth":1.3},"encoding":{"x":{"field":"dl","type":"quantitative","axis":null},"y":{"field":"f","type":"quantitative","axis":null}}},
  {"transform":[{"filter":{"field":"s","equal":"l"}}],"mark":{"type":"text","align":"left","baseline":"middle"},"encoding":{"text":{"field":"ion"},"x":{"datum":-0.443,"type":"quantitative","axis":null},"y":{"datum":1.155,"type":"quantitative","axis":null}}},
  {"transform":[{"filter":{"field":"s","equal":"l"}}],"mark":{"type":"text","align":"left","baseline":"middle"},"encoding":{"text":{"field":"wl"},"x":{"datum":-0.443,"type":"quantitative","axis":null},"y":{"datum":1.09,"type":"quantitative","axis":null}}}
 ]},
{"transform":[{"filter":{"field":"p","equal":5}}],"layer":[
  {"transform":[{"filter":{"field":"s","equal":"o"}}],"mark":{"type":"line","color":"#444","strokeWidth":0.7},"encoding":{"x":{"field":"dl","type":"quantitative","scale":{"domain":[-2.1,2.1],"nice":false,"zero":false},"axis":null},"y":{"field":"f","type":"quantitative","scale":{"domain":[-0.52,1.85],"nice":false,"zero":false},"axis":null}}},
  {"transform":[{"filter":{"field":"s","equal":"b"}}],"mark":{"type":"line","color":"#3a5cff","strokeWidth":1.3},"encoding":{"x":{"field":"dl","type":"quantitative","axis":null},"y":{"field":"f","type":"quantitative","axis":null}}},
  {"transform":[{"filter":{"field":"s","equal":"r"}}],"mark":{"type":"line","color":"#ff1f2a","strokeWidth":1.3},"encoding":{"x":{"field":"dl","type":"quantitative","axis":null},"y":{"field":"f","type":"quantitative","axis":null}}},
  {"transform":[{"filter":{"field":"s","equal":"l"}}],"mark":{"type":"text","align":"left","baseline":"middle"},"encoding":{"text":{"field":"ion"},"x":{"datum":-0.443,"type":"quantitative","axis":null},"y":{"datum":1.155,"type":"quantitative","axis":null}}},
  {"transform":[{"filter":{"field":"s","equal":"l"}}],"mark":{"type":"text","align":"left","baseline":"middle"},"encoding":{"text":{"field":"wl"},"x":{"datum":-0.443,"type":"quantitative","axis":null},"y":{"datum":1.09,"type":"quantitative","axis":null}}}
 ]},
{"transform":[{"filter":{"field":"p","equal":6}}],"layer":[
  {"transform":[{"filter":{"field":"s","equal":"o"}}],"mark":{"type":"line","color":"#444","strokeWidth":0.7},"encoding":{"x":{"field":"dl","type":"quantitative","scale":{"domain":[-3.5,0.7],"nice":false,"zero":false},"axis":null},"y":{"field":"f","type":"quantitative","scale":{"domain":[-0.52,1.85],"nice":false,"zero":false},"axis":null}}},
  {"transform":[{"filter":{"field":"s","equal":"b"}}],"mark":{"type":"line","color":"#3a5cff","strokeWidth":1.3},"encoding":{"x":{"field":"dl","type":"quantitative","axis":null},"y":{"field":"f","type":"quantitative","axis":null}}},
  {"transform":[{"filter":{"field":"s","equal":"r"}}],"mark":{"type":"line","color":"#ff1f2a","strokeWidth":1.3},"encoding":{"x":{"field":"dl","type":"quantitative","axis":null},"y":{"field":"f","type":"quantitative","axis":null}}},
  {"transform":[{"filter":{"field":"s","equal":"l"}}],"mark":{"type":"text","align":"left","baseline":"middle"},"encoding":{"text":{"field":"ion"},"x":{"datum":-0.443,"type":"quantitative","axis":null},"y":{"datum":1.155,"type":"quantitative","axis":null}}},
  {"transform":[{"filter":{"field":"s","equal":"l"}}],"mark":{"type":"text","align":"left","baseline":"middle"},"encoding":{"text":{"field":"wl"},"x":{"datum":-0.443,"type":"quantitative","axis":null},"y":{"datum":1.09,"type":"quantitative","axis":null}}}
 ]},
{"transform":[{"filter":{"field":"p","equal":7}}],"layer":[
  {"transform":[{"filter":{"field":"s","equal":"o"}}],"mark":{"type":"line","color":"#444","strokeWidth":0.7},"encoding":{"x":{"field":"dl","type":"quantitative","scale":{"domain":[-0.7,3.5],"nice":false,"zero":false},"axis":null},"y":{"field":"f","type":"quantitative","scale":{"domain":[0.07,2.44],"nice":false,"zero":false},"axis":null}}},
  {"transform":[{"filter":{"field":"s","equal":"b"}}],"mark":{"type":"line","color":"#3a5cff","strokeWidth":1.3},"encoding":{"x":{"field":"dl","type":"quantitative","axis":null},"y":{"field":"f","type":"quantitative","axis":null}}},
  {"transform":[{"filter":{"field":"s","equal":"r"}}],"mark":{"type":"line","color":"#ff1f2a","strokeWidth":1.3},"encoding":{"x":{"field":"dl","type":"quantitative","axis":null},"y":{"field":"f","type":"quantitative","axis":null}}},
  {"transform":[{"filter":{"field":"s","equal":"l"}}],"mark":{"type":"text","align":"left","baseline":"middle"},"encoding":{"text":{"field":"ion"},"x":{"datum":-0.443,"type":"quantitative","axis":null},"y":{"datum":1.16,"type":"quantitative","axis":null}}},
  {"transform":[{"filter":{"field":"s","equal":"l"}}],"mark":{"type":"text","align":"left","baseline":"middle"},"encoding":{"text":{"field":"wl"},"x":{"datum":-0.443,"type":"quantitative","axis":null},"y":{"datum":1.093,"type":"quantitative","axis":null}}}
 ]},
{"transform":[{"filter":{"field":"p","equal":8}}],"layer":[
  {"transform":[{"filter":{"field":"s","equal":"o"}}],"mark":{"type":"line","color":"#444","strokeWidth":0.7},"encoding":{"x":{"field":"dl","type":"quantitative","scale":{"domain":[-2.1,2.1],"nice":false,"zero":false},"axis":null},"y":{"field":"f","type":"quantitative","scale":{"domain":[0.07,2.44],"nice":false,"zero":false},"axis":null}}},
  {"transform":[{"filter":{"field":"s","equal":"b"}}],"mark":{"type":"line","color":"#3a5cff","strokeWidth":1.3},"encoding":{"x":{"field":"dl","type":"quantitative","axis":null},"y":{"field":"f","type":"quantitative","axis":null}}},
  {"transform":[{"filter":{"field":"s","equal":"r"}}],"mark":{"type":"line","color":"#ff1f2a","strokeWidth":1.3},"encoding":{"x":{"field":"dl","type":"quantitative","axis":null},"y":{"field":"f","type":"quantitative","axis":null}}},
  {"transform":[{"filter":{"field":"s","equal":"l"}}],"mark":{"type":"text","align":"left","baseline":"middle"},"encoding":{"text":{"field":"ion"},"x":{"datum":-0.443,"type":"quantitative","axis":null},"y":{"datum":1.16,"type":"quantitative","axis":null}}},
  {"transform":[{"filter":{"field":"s","equal":"l"}}],"mark":{"type":"text","align":"left","baseline":"middle"},"encoding":{"text":{"field":"wl"},"x":{"datum":-0.443,"type":"quantitative","axis":null},"y":{"datum":1.093,"type":"quantitative","axis":null}}}
 ]},
{"transform":[{"filter":{"field":"p","equal":9}}],"layer":[
  {"transform":[{"filter":{"field":"s","equal":"o"}}],"mark":{"type":"line","color":"#444","strokeWidth":0.7},"encoding":{"x":{"field":"dl","type":"quantitative","scale":{"domain":[-3.5,0.7],"nice":false,"zero":false},"axis":null},"y":{"field":"f","type":"quantitative","scale":{"domain":[0.07,2.44],"nice":false,"zero":false},"axis":null}}},
  {"transform":[{"filter":{"field":"s","equal":"b"}}],"mark":{"type":"line","color":"#3a5cff","strokeWidth":1.3},"encoding":{"x":{"field":"dl","type":"quantitative","axis":null},"y":{"field":"f","type":"quantitative","axis":null}}},
  {"transform":[{"filter":{"field":"s","equal":"r"}}],"mark":{"type":"line","color":"#ff1f2a","strokeWidth":1.3},"encoding":{"x":{"field":"dl","type":"quantitative","axis":null},"y":{"field":"f","type":"quantitative","axis":null}}},
  {"transform":[{"filter":{"field":"s","equal":"l"}}],"mark":{"type":"text","align":"left","baseline":"middle"},"encoding":{"text":{"field":"ion"},"x":{"datum":-0.443,"type":"quantitative","axis":null},"y":{"datum":1.16,"type":"quantitative","axis":null}}},
  {"transform":[{"filter":{"field":"s","equal":"l"}}],"mark":{"type":"text","align":"left","baseline":"middle"},"encoding":{"text":{"field":"wl"},"x":{"datum":-0.443,"type":"quantitative","axis":null},"y":{"datum":1.093,"type":"quantitative","axis":null}}}
 ]},
{"transform":[{"filter":{"field":"p","equal":10}}],"layer":[
  {"transform":[{"filter":{"field":"s","equal":"o"}}],"mark":{"type":"line","color":"#444","strokeWidth":0.7},"encoding":{"x":{"field":"dl","type":"quantitative","scale":{"domain":[-0.7,3.5],"nice":false,"zero":false},"axis":null},"y":{"field":"f","type":"quantitative","scale":{"domain":[0.53,2.9],"nice":false,"zero":false},"axis":null}}},
  {"transform":[{"filter":{"field":"s","equal":"b"}}],"mark":{"type":"line","color":"#3a5cff","strokeWidth":1.3},"encoding":{"x":{"field":"dl","type":"quantitative","axis":null},"y":{"field":"f","type":"quantitative","axis":null}}},
  {"transform":[{"filter":{"field":"s","equal":"r"}}],"mark":{"type":"line","color":"#ff1f2a","strokeWidth":1.3},"encoding":{"x":{"field":"dl","type":"quantitative","axis":null},"y":{"field":"f","type":"quantitative","axis":null}}},
  {"transform":[{"filter":{"field":"s","equal":"l"}}],"mark":{"type":"text","align":"left","baseline":"middle"},"encoding":{"text":{"field":"ion"},"x":{"datum":-0.443,"type":"quantitative","axis":null},"y":{"datum":1.13,"type":"quantitative","axis":null}}},
  {"transform":[{"filter":{"field":"s","equal":"l"}}],"mark":{"type":"text","align":"left","baseline":"middle"},"encoding":{"text":{"field":"wl"},"x":{"datum":-0.443,"type":"quantitative","axis":null},"y":{"datum":1.07,"type":"quantitative","axis":null}}}
 ]},
{"transform":[{"filter":{"field":"p","equal":11}}],"layer":[
  {"transform":[{"filter":{"field":"s","equal":"o"}}],"mark":{"type":"line","color":"#444","strokeWidth":0.7},"encoding":{"x":{"field":"dl","type":"quantitative","scale":{"domain":[-2.1,2.1],"nice":false,"zero":false},"axis":null},"y":{"field":"f","type":"quantitative","scale":{"domain":[0.53,2.9],"nice":false,"zero":false},"axis":null}}},
  {"transform":[{"filter":{"field":"s","equal":"b"}}],"mark":{"type":"line","color":"#3a5cff","strokeWidth":1.3},"encoding":{"x":{"field":"dl","type":"quantitative","axis":null},"y":{"field":"f","type":"quantitative","axis":null}}},
  {"transform":[{"filter":{"field":"s","equal":"r"}}],"mark":{"type":"line","color":"#ff1f2a","strokeWidth":1.3},"encoding":{"x":{"field":"dl","type":"quantitative","axis":null},"y":{"field":"f","type":"quantitative","axis":null}}},
  {"transform":[{"filter":{"field":"s","equal":"l"}}],"mark":{"type":"text","align":"left","baseline":"middle"},"encoding":{"text":{"field":"ion"},"x":{"datum":-0.443,"type":"quantitative","axis":null},"y":{"datum":1.13,"type":"quantitative","axis":null}}},
  {"transform":[{"filter":{"field":"s","equal":"l"}}],"mark":{"type":"text","align":"left","baseline":"middle"},"encoding":{"text":{"field":"wl"},"x":{"datum":-0.443,"type":"quantitative","axis":null},"y":{"datum":1.07,"type":"quantitative","axis":null}}}
 ]},
{"data":{"values":[{}]},
 "encoding":{"x":{"datum":2.843,"type":"quantitative","scale":{"domain":[0,4.2],"nice":false,"zero":false},"axis":{"title":"Δλ / Å","labels":false,"ticks":false,"domain":false,"grid":false,"titleFont":"Liberation Sans","titleFontSize":8,"titleFontWeight":"normal","titleFontStyle":"italic","titleColor":"#222","titlePadding":4}},
   "y":{"datum":0.053,"type":"quantitative","scale":{"domain":[0,2.37],"nice":false,"zero":false},"axis":{"title":"relative flux","labels":false,"ticks":false,"domain":false,"grid":false,"titleFont":"Liberation Sans","titleFontSize":8,"titleFontWeight":"normal","titleColor":"#222","titlePadding":3}}},
 "layer":[
  {"mark":{"type":"rule","color":"#333","strokeWidth":1},"encoding":{"x2":{"datum":3.842}}},
  {"mark":{"type":"rule","color":"#333","strokeWidth":1},"encoding":{"y":{"datum":0.028},"y2":{"datum":0.078}}},
  {"mark":{"type":"rule","color":"#333","strokeWidth":1},"encoding":{"x":{"datum":3.842},"y":{"datum":0.028},"y2":{"datum":0.078}}},
  {"mark":{"type":"rule","color":"#333","strokeWidth":1},"encoding":{"x":{"datum":3.867},"y":{"datum":0.113},"y2":{"datum":0.213}}},
  {"mark":{"type":"rule","color":"#333","strokeWidth":1},"encoding":{"x":{"datum":3.842},"x2":{"datum":3.892},"y":{"datum":0.113}}},
  {"mark":{"type":"rule","color":"#333","strokeWidth":1},"encoding":{"x":{"datum":3.842},"x2":{"datum":3.892},"y":{"datum":0.213}}},
  {"mark":{"type":"text","align":"center","baseline":"middle"},"encoding":{"text":{"value":"1 Å"},"x":{"datum":3.342},"y":{"datum":0.097}}},
  {"mark":{"type":"text","align":"left","baseline":"middle"},"encoding":{"text":{"value":"10 %"},"x":{"datum":3.93},"y":{"datum":0.163}}}
 ]}
]
}
